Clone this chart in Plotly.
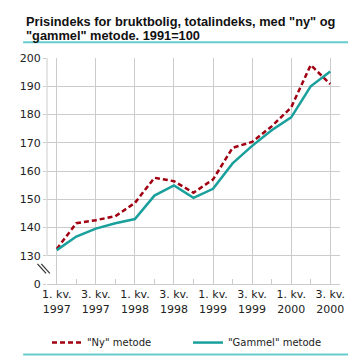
import plotly.graph_objects as go

quarters = ["1. kv. 1997", "2. kv. 1997", "3. kv. 1997", "4. kv. 1997",
            "1. kv. 1998", "2. kv. 1998", "3. kv. 1998", "4. kv. 1998",
            "1. kv. 1999", "2. kv. 1999", "3. kv. 1999", "4. kv. 1999",
            "1. kv. 2000", "2. kv. 2000", "3. kv. 2000"]
ny_metode = [132.4, 141.5, 142.6, 144.0, 148.7, 157.6, 156.4, 152.3,
             157.0, 168.2, 170.3, 175.8, 182.5, 197.5, 190.8]
gammel_metode = [132.0, 136.8, 139.6, 141.5, 143.0, 151.3, 154.9, 150.5,
                 153.7, 162.7, 168.9, 174.4, 179.0, 190.0, 195.2]
x_tick_labels = ["1. kv.<br>1997", "3. kv.<br>1997", "1. kv.<br>1998", "3. kv.<br>1998",
                 "1. kv.<br>1999", "3. kv.<br>1999", "1. kv.<br>2000", "3. kv.<br>2000"]
y_tick_vals = [120, 130, 140, 150, 160, 170, 180, 190, 200]
y_tick_labels = ["0", "130", "140", "150", "160", "170", "180", "190", "200"]
title_lines = ['Prisindeks for bruktbolig, totalindeks, med "ny" og',
               '"gammel" metode. 1991=100']

RED = "#A00010"
TEAL = "#1AA09C"
GRID = "#CCCCCC"
FONT = "DejaVu Sans"

W, H = 356, 361
L, R, T, B = 25, 24, 50, 75
pw, ph = W - L - R, H - T - B

def px(x):
    return (x - L) / pw

def py(y):
    return (H - B - y) / ph

xi = list(range(len(quarters)))

fig = go.Figure()
fig.add_trace(go.Scatter(x=xi, y=ny_metode, mode="lines", name='"Ny" metode',
                         line=dict(color=RED, width=2.5, dash="5px,3px"),
                         text=quarters, hoverinfo="text+y"))
fig.add_trace(go.Scatter(x=xi, y=gammel_metode, mode="lines", name='"Gammel" metode',
                         line=dict(color=TEAL, width=2.5),
                         text=quarters, hoverinfo="text+y"))

shapes = [
    # title underline
    dict(type="line", xref="paper", yref="paper", x0=px(0), x1=px(W), y0=py(33.5), y1=py(33.5),
         line=dict(color="#66CCCC", width=2)),
    # bottom line
    dict(type="line", xref="paper", yref="paper", x0=px(0), x1=px(W), y0=py(359.5), y1=py(359.5),
         line=dict(color="#66CCCC", width=2)),
    # y axis line (upper part)
    dict(type="line", xref="paper", yref="y", x0=0, x1=0, y0=130, y1=200,
         line=dict(color=GRID, width=1)),
    # axis break marks
    dict(type="line", xref="paper", yref="paper", x0=px(15), x1=px(24), y0=py(265), y1=py(275),
         line=dict(color="#333333", width=1.2)),
    dict(type="line", xref="paper", yref="paper", x0=px(19), x1=px(28), y0=py(265), y1=py(275),
         line=dict(color="#333333", width=1.2)),
]

title_font = dict(family="Liberation Sans", size=12.8, color="#111111", weight="bold")
annotations = [
    dict(text=title_lines[0], font=title_font, xref="paper", yref="paper",
         x=px(1), y=py(12), xanchor="left", yanchor="middle", showarrow=False),
    dict(text=title_lines[1], font=title_font, xref="paper", yref="paper",
         x=px(1), y=py(26), xanchor="left", yanchor="middle", showarrow=False),
]

fig.update_layout(
    width=W, height=H,
    margin=dict(l=L, r=R, t=T, b=B),
    paper_bgcolor="white", plot_bgcolor="white",
    font=dict(family=FONT, size=11, color="#222222"),
    annotations=annotations,
    showlegend=True,
    legend=dict(orientation="h", x=px(25), xanchor="left", y=py(332), yanchor="top",
                font=dict(size=10), itemwidth=30, entrywidth=96, entrywidthmode="pixels",
                bgcolor="rgba(0,0,0,0)", tracegroupgap=0),
    shapes=shapes,
)
fig.update_xaxes(range=[-0.5, 14.5], tickmode="array", tickvals=[0, 2, 4, 6, 8, 10, 12, 14],
                 ticktext=x_tick_labels, showgrid=True, gridcolor=GRID, gridwidth=1,
                 ticks="", showline=True, linecolor=GRID, linewidth=1, zeroline=False,
                 tickfont=dict(size=11, color="#222222"),
                 minor=dict(tickvals=[1, 3, 5, 7, 9, 11, 13], ticks="inside", ticklen=5,
                            tickcolor=GRID, showgrid=False))
fig.update_yaxes(range=[120, 200], tickmode="array", tickvals=y_tick_vals, ticktext=y_tick_labels,
                 showgrid=True, gridcolor=GRID, gridwidth=1, ticks="outside", ticklen=3,
                 tickcolor=GRID, showline=False, zeroline=False,
                 tickfont=dict(size=11, color="#222222"))

fig.write_html("out.html")
